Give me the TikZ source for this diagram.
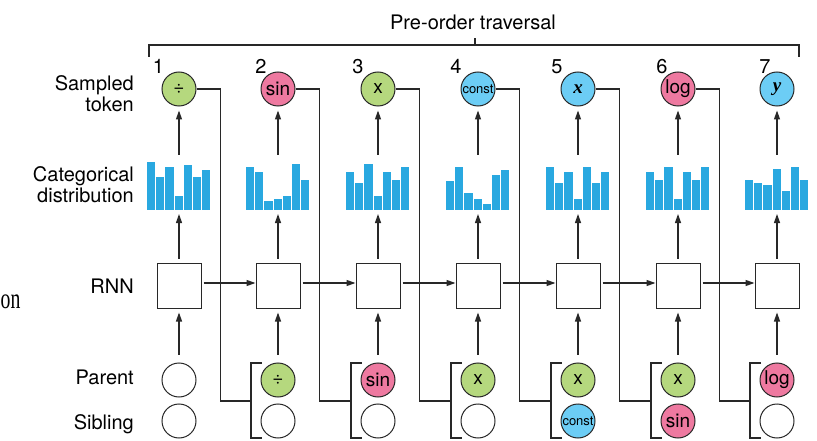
\documentclass[tikz,border=0pt]{standalone}
\usepackage{fontspec}
\setmainfont{TeX Gyre Heros}
\newfontfamily\seriff{Liberation Serif}
\usetikzlibrary{arrows.meta}

\definecolor{tgreen}{RGB}{181,216,126}
\definecolor{tpink}{RGB}{238,121,160}
\definecolor{tblue}{RGB}{108,205,245}
\definecolor{barblue}{RGB}{41,168,224}
\definecolor{ink}{RGB}{40,40,40}

\begin{document}
\begin{tikzpicture}[x=1pt,y=-1pt,
  tok/.style={circle, draw=ink, minimum size=34pt, inner sep=0pt, line width=1pt,
    font=\fontsize{19}{19}\selectfont},
  small/.style={font=\fontsize{13}{13}\selectfont},
  rnnbox/.style={draw=ink, minimum width=44pt, minimum height=45pt, inner sep=0pt, line width=1pt},
  arr/.style={draw=ink, -{Triangle[length=9pt,width=6pt]}, line width=1.2pt},
  conn/.style={draw=ink, line width=1.2pt},
  lbl/.style={anchor=east, align=right, font=\fontsize{20}{21}\selectfont, inner sep=0pt},
  lblb/.style={anchor=base east, font=\fontsize{20}{21}\selectfont, inner sep=0pt},
  num/.style={anchor=base, font=\fontsize{20}{20}\selectfont, inner sep=0pt},
  histbar/.style={fill=barblue, draw=none},
  ]
\useasboundingbox (0,0) rectangle (817,441);

% left labels
\node[lbl] (lsamp) at (134,94) {Sampled\\token};
\node[lbl] (lcat) at (134,185) {Categorical\\distribution};
\node[lblb] (lrnn) at (134,293) {RNN};
\node[lblb] (lpar) at (134,384) {Parent};
\node[lblb] (lsib) at (134,429) {Sibling};
\node[anchor=base west, inner sep=0pt, font=\seriff\fontsize{29}{29}\selectfont] (lon) at (0.5,308) {\scalebox{0.68}[1]{on}};

% top bracket
\node[anchor=base, font=\fontsize{20}{20}\selectfont, inner sep=0pt] (title) at (473,30) {Pre-order traversal};
\draw[conn] (149,57) -- (149,45) -- (799,45) -- (799,57);
\draw[conn] (475,45) -- (475,38);

% columns
\foreach \i/\c/\nx in {1/179/158.5, 2/278/261, 3/378/358, 4/478/456, 5/578/557, 6/678/662, 7/777/765} {
  \node[num] (n\i) at (\nx,74) {\i};
  \node[rnnbox] (r\i) at (\c,285.5) {};
  \coordinate (ht\i) at (\c,155);
  \coordinate (hb\i) at (\c,214);
  \coordinate (pc\i) at (\c,380);
  \coordinate (sc\i) at (\c,421);
}

% tokens
\node[tok, fill=tgreen] (t1) at (179,89) {÷};
\node[tok, fill=tpink] (t2) at (278,89) {sin};
\node[tok, fill=tgreen] (t3) at (378,89) {x};
\node[tok, fill=tblue, small] (t4) at (478,89) {const};
\node[tok, fill=tblue] (t5) at (578,89) {\seriff\bfseries\itshape x};
\node[tok, fill=tpink] (t6) at (678,89) {log};
\node[tok, fill=tblue] (t7) at (777,89) {\seriff\bfseries\itshape y};

% histograms
\foreach \c/\hs [count=\i] in {
  179/{48,33,43,14,45,33,40},
  278/{43,38,9,11,14,46,30},
  378/{38,27,46,14,38,30,43},
  478/{29,43,17,11,6,35,40},
  578/{43,27,38,11,43,27,38},
  678/{38,30,43,11,38,30,43},
  777/{30,27,25,41,19,43,30}} {
  \foreach \h [count=\k] in \hs {
    \fill[histbar] ({\c-32+9.2*(\k-1)},210) rectangle ++(8.2,-\h);
  }
}

% parent / sibling nodes
\node[tok] (p1) at (pc1) {};
\node[tok] (s1) at (sc1) {};
\node[tok, fill=tgreen] (p2) at (pc2) {÷};
\node[tok] (s2) at (sc2) {};
\node[tok, fill=tpink] (p3) at (pc3) {sin};
\node[tok] (s3) at (sc3) {};
\node[tok, fill=tgreen] (p4) at (pc4) {x};
\node[tok] (s4) at (sc4) {};
\node[tok, fill=tgreen] (p5) at (pc5) {x};
\node[tok, fill=tblue, small] (s5) at (sc5) {const};
\node[tok, fill=tgreen] (p6) at (pc6) {x};
\node[tok, fill=tpink] (s6) at (sc6) {sin};
\node[tok, fill=tpink] (p7) at (pc7) {log};
\node[tok] (s7) at (sc7) {};

% vertical arrows
\foreach \i in {1,...,7} {
  \draw[arr, shorten >=4pt] (ht\i) -- (t\i.south);
  \draw[arr, shorten <=4pt] (r\i.north) -- (hb\i);
  \draw[arr, shorten <=8pt, shorten >=4pt] (p\i.north) -- (r\i.south);
}

% RNN chain
\foreach \i/\j in {1/2,2/3,3/4,4/5,5/6,6/7} {
  \draw[arr, shorten <=2pt] ([yshift=2.5pt]r\i.east) -- ([yshift=2.5pt]r\j.west);
}

% brackets and token connectors
\foreach \i/\j/\c in {1/2/278,2/3/378,3/4/478,4/5/578,5/6/678,6/7/777} {
  \coordinate (bm\j) at (\c-27,401);
  \draw[conn] (\c-16,363) -- (\c-27,363) -- (\c-27,438) -- (\c-16,438);
  \draw[conn] (t\i.east) -- ++(24,0) |- (bm\j);
}
\end{tikzpicture}
\end{document}
